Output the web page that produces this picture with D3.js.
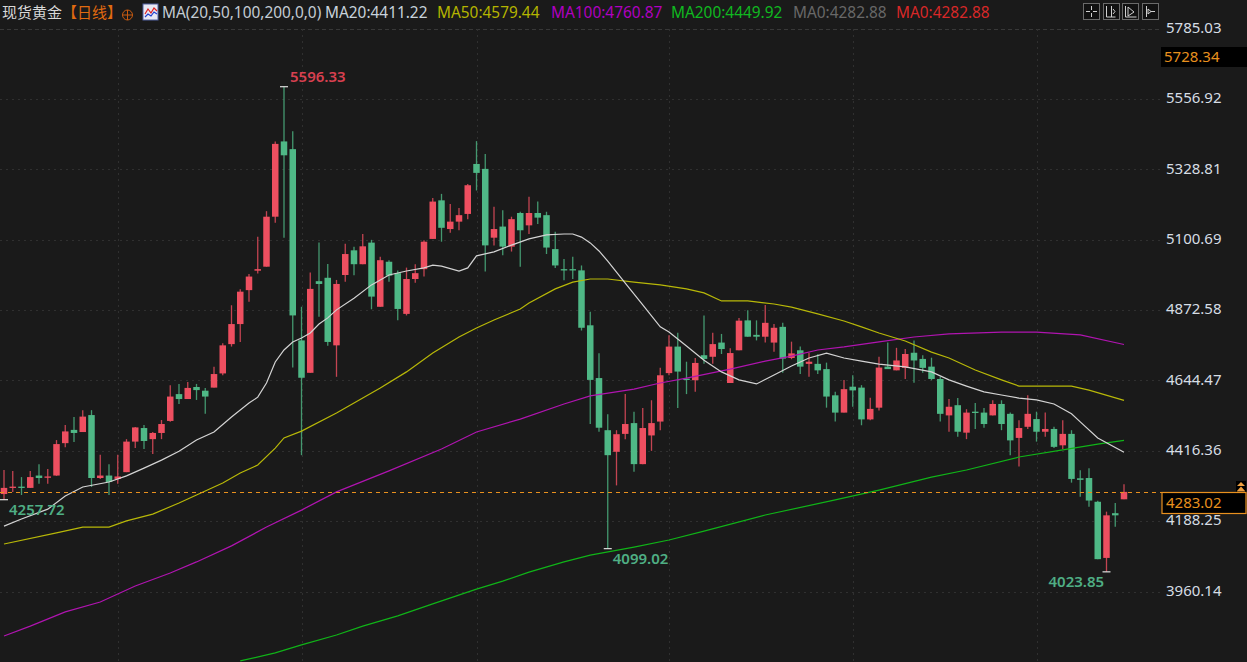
<!DOCTYPE html>
<html>
<head>
<meta charset="utf-8">
<script src="https://cdn.jsdelivr.net/npm/d3@7"></script>
<style>
html,body{margin:0;padding:0;background:#1a1a1a;overflow:hidden}
svg{display:block}
text{font-family:"Noto Sans","Noto Sans CJK SC",sans-serif}
</style>
</head>
<body>
<div id="chart"></div>
<script>
const opens=[4276,4297,4300,4296,4336,4330,4336,4441,4484,4477,4532,4328,4336,4325,4347,4446,4490,4454,4474,4513,4600,4584,4623,4611,4621,4667,4762,4827,4937,5000,5013,5175,5419,5394,4774,4669,4966,4977,4758,4986,5066,5021,5091,4883,5029,4992,4860,4973,5005,5103,5228,5135,5159,5184,5346,5330,5107,5143,5078,5187,5147,5187,5180,5070,5005,5005,5001,4823,4652,4483,4413,4471,4506,4373,4466,4511,4668,4754,4650,4645,4726,4721,4767,4636,4742,4839,4792,4786,4767,4818,4717,4742,4698,4698,4681,4596,4540,4624,4621,4518,4556,4689,4677,4685,4734,4714,4689,4649,4531,4564,4475,4543,4540,4531,4568,4536,4458,4494,4519,4478,4487,4434,4471,4327,4328,4251,4069,4214,4259];
const highs=[4354,4351,4331,4351,4373,4357,4451,4500,4526,4548,4548,4403,4373,4403,4454,4493,4500,4477,4516,4629,4633,4639,4633,4620,4689,4765,4888,4940,4989,5110,5193,5419,5596.33,5452,4883,4994,5091,5022,4970,5087,5078,5119,5100,5045,5034,5001,5010,5021,5099,5236,5249,5216,5203,5281,5420,5378,5207,5196,5175,5191,5240,5224,5191,5126,5038,5045,5017,4867,4732,4535,4483,4600,4543,4555,4580,4685,4791,4799,4705,4717,4855,4799,4795,4749,4847,4872,4839,4889,4827,4831,4770,4754,4734,4729,4702,4608,4646,4661,4629,4588,4721,4767,4750,4746,4774,4726,4718,4656,4584,4587,4551,4571,4555,4580,4580,4540,4515,4596,4543,4540,4494,4515,4483,4353,4360,4254,4219,4247,4308];
const lows=[4257.72,4283,4273,4296,4309,4309,4335,4428,4445,4477,4299,4325,4273,4309,4347,4425,4422,4406,4454,4510,4568,4584,4581,4536,4621,4661,4754,4769,4899,4991,5013,5155,5107,4686,4402,4669,4851,4757,4656,4964,4985,5021,4875,4883,4964,4839,4855,4961,4981,5103,5094,5123,5131,5167,5260,4997,5082,5050,5062,5013,5119,5151,5054,5009,4969,4973,4806,4503,4478,4099.02,4304,4454,4348,4373,4416,4483,4661,4555,4600,4608,4698,4698,4730,4636,4742,4786,4774,4767,4737,4669,4713,4665,4656,4665,4556,4511,4540,4559,4499,4515,4547,4681,4677,4649,4637,4669,4645,4511,4478,4462,4454,4487,4491,4531,4483,4402,4365,4487,4446,4462,4425,4422,4313,4267,4235,4065,4023.85,4170,4259];
const closes=[4296,4300,4297,4331,4328,4333,4438,4479,4474,4527,4328,4336,4315,4333,4446,4492,4448,4474,4503,4592,4584,4620,4613,4592,4665,4758,4827,4932,4981,5005,5175,5411,5374,4855,4653,4941,4957,4769,4957,5054,5021,5079,4916,5034,4984,4876,4973,4992,5094,5224,5139,5159,5180,5277,5317,5082,5135,5078,5167,5131,5187,5172,5075,5017,5001,5001,4815,4646,4491,4402,4470,4503,4373,4490,4506,4661,4754,4673,4646,4701,4714,4762,4746,4733,4838,4786,4786,4831,4815,4715,4732,4689,4705,4677,4592,4540,4616,4612,4518,4552,4686,4681,4709,4730,4709,4685,4649,4536,4559,4478,4540,4539,4503,4568,4503,4450,4490,4536,4478,4487,4429,4471,4325,4322,4255,4065,4207,4207,4283.02];

const ma20Index=[0,2,5,7,9,12,14,16,18,20,22,24,26,28,29,30,31,32,33,34,35,36,37,38,40,42,44,46,48,49,50,52,53,54,56,58,60,62,64,65,66,67,68,69,71,73,75,76,78,80,82,84,86,88,90,92,94,96,98,100,103,106,108,110,112,114,116,118,120,122,123,125,128];
const ma20Values=[4172,4195,4227,4270,4299,4315,4335,4360,4386,4415,4451,4477,4526,4571,4590,4636,4704,4743,4769,4782,4798,4827,4847,4873,4911,4954,4986,4999,5009,5018,5015,4999,5009,5048,5061,5083,5103,5116,5119,5119,5109,5090,5064,5031,4960,4889,4818,4801,4756,4710,4672,4646,4633,4662,4691,4717,4733,4717,4707,4697,4688,4672,4646,4626,4607,4597,4587,4581,4568,4536,4510,4458,4411.22];
const ma50Index=[0,6,9,12,14,17,20,22,25,27,29,31,32,34,38,40,43,46,49,52,54,56,59,60,63,65,67,69,72,75,78,80,82,85,88,90,93,96,98,100,103,106,108,111,114,116,122,124,128];
const ma50Values=[4114,4150,4169,4169,4189,4211,4247,4273,4312,4344,4370,4425,4458,4480,4539,4571,4620,4672,4733,4785,4814,4840,4876,4895,4941,4963,4973,4973,4963,4954,4941,4928,4902,4902,4892,4882,4860,4837,4818,4798,4772,4736,4717,4678,4646,4626,4626,4613,4579.44];
const ma100Index=[0,3,7,11,15,19,22,26,30,34,38,44,50,54,59,64,67,72,75,78,83,87,90,93,96,100,104,108,114,118,123,128];
const ma100Values=[3816,3848,3894,3926,3978,4020,4056,4108,4169,4224,4283,4351,4422,4477,4519,4568,4594,4616,4636,4652,4681,4707,4723,4743,4753,4769,4785,4795,4801,4801,4792,4760.87];
const ma200Index=[27,31,34,38,41,45,49,54,57,60,64,67,72,76,80,87,95,100,106,110,116,121,125,128];
const ma200Values=[3735,3761,3787,3819,3848,3881,3920,3968,3994,4023,4056,4078,4104,4127,4156,4208,4257,4289,4331,4354,4396,4419,4438,4449.92];

const axisTicks=[5785.03,5556.92,5328.81,5100.69,4872.58,4644.47,4416.36,4188.25,3960.14];
const monthStarts=[13,34,54,76,97,118];
const extremes=[[32,5596.33,"5596.33"],[0,4257.72,"4257.72"],[69,4099.02,"4099.02"],[126,4023.85,"4023.85"]];
const currentPrice=4283.02;
const viewHigh=5728.34;
const legendTexts=["MA(20,50,100,200,0,0)","MA20:4411.22","MA50:4579.44","MA100:4760.87","MA200:4449.92","MA0:4282.88","MA0:4282.88"];
const legendColors=["#c4ccd4","#c8d2dc","#b4b400","#b000c0","#10b820","#686868","#d82828"];
const legendX=[162,325,437,551,671,793,896];

const W=1247,H=662,plotRight=1160;
const UP="#ee4f60",DOWN="#4fb886",ORANGE="#e8901e";
const svg=d3.select("#chart").append("svg").attr("width",W).attr("height",H);
svg.append("rect").attr("width",W).attr("height",H).attr("fill","#1a1a1a");
svg.append("defs").append("clipPath").attr("id","plot").append("rect").attr("x",0).attr("y",24).attr("width",plotRight).attr("height",H-24);

const x=d3.scaleLinear().domain([0,128]).range([4,1124]);
const y=d3.scaleLinear().domain([5785.03,3960.14]).range([28.5,591.5]);

// grid
const grid=svg.append("g");
grid.selectAll("line.h").data(axisTicks).join("line").attr("class","h")
  .attr("x1",0).attr("x2",plotRight).attr("y1",d=>Math.round(y(d))+.5).attr("y2",d=>Math.round(y(d))+.5)
  .attr("stroke",(d,i)=>i===0?"#383838":"#303030").attr("stroke-dasharray",(d,i)=>i===0?"4 3":"2 4");
grid.selectAll("line.v").data(monthStarts).join("line").attr("class","v")
  .attr("x1",d=>Math.round(x(d))+.5).attr("x2",d=>Math.round(x(d))+.5).attr("y1",29).attr("y2",H)
  .attr("stroke","#303030").attr("stroke-dasharray","2 4");

// candles
const idx=d3.range(opens.length);
const candles=svg.append("g").attr("clip-path","url(#plot)");
const col=i=>closes[i]>=opens[i]?UP:DOWN;
candles.selectAll("line.w").data(idx).join("line").attr("class","w")
  .attr("x1",i=>x(i)).attr("x2",i=>x(i)).attr("y1",i=>y(highs[i])).attr("y2",i=>y(lows[i]))
  .attr("stroke",col).attr("stroke-width",1.3).attr("opacity",.8);
candles.selectAll("rect").data(idx).join("rect")
  .attr("x",i=>x(i)-3.25).attr("width",6.5)
  .attr("y",i=>Math.min(y(opens[i]),y(closes[i])))
  .attr("height",i=>Math.max(1.3,Math.abs(y(opens[i])-y(closes[i]))))
  .attr("fill",col);

// moving averages
const maLine=(ix,vals,color)=>{
  const pts=ix.map((d,i)=>[d,vals[i]]);
  svg.append("path").datum(pts).attr("clip-path","url(#plot)")
    .attr("d",d3.line().x(d=>x(d[0])).y(d=>y(d[1])))
    .attr("fill","none").attr("stroke",color).attr("stroke-width",1.2);
};
maLine(ma200Index,ma200Values,"#10b418");
maLine(ma100Index,ma100Values,"#b014b0");
maLine(ma50Index,ma50Values,"#b8b808");
maLine(ma20Index,ma20Values,"#d4d4d4");

// current price line
const cy=Math.round(y(currentPrice))+.5;
svg.append("line").attr("x1",0).attr("x2",plotRight+2).attr("y1",cy).attr("y2",cy)
  .attr("stroke",ORANGE).attr("stroke-width",1.2).attr("stroke-dasharray","4 4");

// extreme markers
svg.append("g").selectAll("line").data(extremes).join("line")
  .attr("x1",d=>x(d[0])-4).attr("x2",d=>x(d[0])+4).attr("y1",d=>y(d[1])).attr("y2",d=>y(d[1]))
  .attr("stroke","#e0e0e0").attr("stroke-width",1.2);
const exOffset={0:[5,10.5],32:[6,-9.5],69:[5,10.5],126:[-58,9.5]};
svg.append("g").selectAll("text").data(extremes).join("text")
  .attr("x",d=>x(d[0])+exOffset[d[0]][0]).attr("y",d=>y(d[1])+exOffset[d[0]][1])
  .attr("dy","0.35em").attr("font-size",15).attr("font-weight",600)
  .attr("fill",d=>d[0]===32?"#d84050":"#4fae84").text(d=>d[2]);

// right axis
const axisG=svg.append("g").attr("transform",`translate(1160,-1)`)
  .call(d3.axisRight(y).tickValues(axisTicks).tickSize(0).tickPadding(6).tickFormat(d3.format(".2f")));
axisG.select(".domain").remove();
axisG.selectAll("text").attr("font-size",15).attr("font-family",'"Noto Sans",sans-serif').attr("fill","#d6dde4");

// view-high box
svg.append("rect").attr("x",1161).attr("y",47).attr("width",86).attr("height",20).attr("fill","#000");
svg.append("text").attr("x",1164).attr("y",57).attr("dy","0.35em").attr("font-size",15).attr("fill",ORANGE).text(viewHigh.toFixed(2));

// current price box
svg.append("rect").attr("x",1162).attr("y",492.5).attr("width",84).attr("height",21).attr("fill","#000").attr("stroke",ORANGE).attr("stroke-width",1.2);
svg.append("text").attr("x",1166).attr("y",503).attr("dy","0.35em").attr("font-size",15).attr("fill",ORANGE).text(currentPrice.toFixed(2));
svg.append("rect").attr("x",1236).attr("y",481).attr("width",10).attr("height",11).attr("fill","#000");
svg.append("path").attr("d","M1241 482l4 4h-8zM1241 486.5l4.5 5h-9z").attr("fill","#f0a040");

// header
svg.append("text").attr("x",2).attr("y",13).attr("dy","0.35em").attr("font-size",15).attr("fill","#d8d8d8").text("现货黄金");
svg.append("text").attr("x",62).attr("y",13).attr("dy","0.35em").attr("font-size",15).attr("fill","#e06a10").text("【日线】");
const pin=svg.append("g").attr("stroke","#c85a10").attr("fill","none");
pin.append("circle").attr("cx",127.5).attr("cy",15).attr("r",5);
pin.append("path").attr("d","M122.5 15h10M127.5 10v10");
const ic=svg.append("g");
ic.append("rect").attr("x",143).attr("y",4).attr("width",15).attr("height",16).attr("fill","#e8e8f4").attr("stroke","#5060a0");
ic.append("path").attr("d","M145 14l3-5 3 4 3-5 3 3").attr("fill","none").attr("stroke","#e02020").attr("stroke-width",1.2);
ic.append("path").attr("d","M145 17l3-3 3 2 3-4 3 2").attr("fill","none").attr("stroke","#2040d0").attr("stroke-width",1.2);
svg.append("g").selectAll("text").data(legendTexts).join("text")
  .attr("x",(d,i)=>legendX[i]).attr("y",13).attr("dy","0.35em").attr("font-size",15.4)
  .attr("fill",(d,i)=>legendColors[i]).text(d=>d);

// toolbar
const tb=svg.append("g");
[1083,1103,1122,1142].forEach(px=>{
  tb.append("rect").attr("x",px+.5).attr("y",3.5).attr("width",16).attr("height",16).attr("fill","#111").attr("stroke","#6a6a6a");
});
tb.append("path").attr("d","M1091.5 6v4M1091.5 13v4M1086 11.5h4M1093 11.5h4").attr("stroke","#d0d0d0").attr("fill","none");
tb.append("path").attr("d","M1106.5 6v11M1111.5 6v11M1106.5 17h9M1113 9l2 2.5-2 2.5").attr("stroke","#d0d0d0").attr("fill","none");
tb.append("path").attr("d","M1125.5 6v11h11M1128 7l6 5-6 4z").attr("stroke","#d0d0d0").attr("fill","none");
tb.append("path").attr("d","M1146.5 6v11M1148 9v5l3-2.5zM1151 11.5h4").attr("stroke","#d0d0d0").attr("fill","none");
</script>
</body>
</html>
